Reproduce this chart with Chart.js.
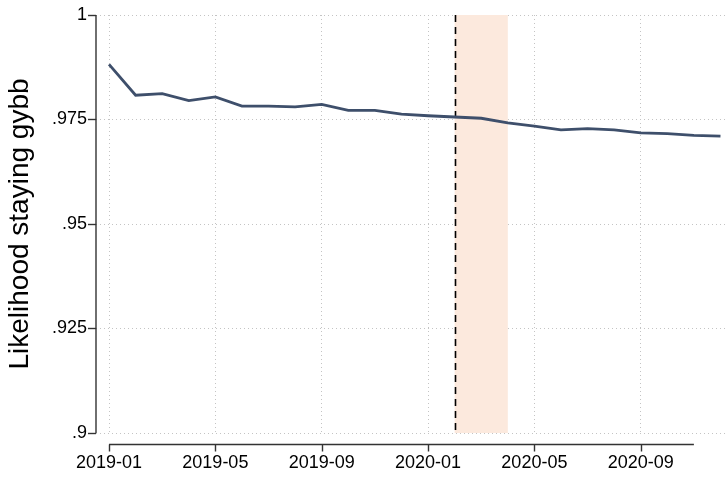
<!DOCTYPE html>
<html lang="en">
<head>
<meta charset="UTF-8">
<title>Likelihood staying gybb</title>
<script src="https://cdn.jsdelivr.net/npm/chart.js@4.4.0/dist/chart.umd.min.js"></script>
<style>
  html, body { margin: 0; padding: 0; background: #fff; }
  #wrap { width: 725px; height: 477px; }
</style>
</head>
<body>
<div id="wrap"><canvas id="myChart" width="725" height="477"></canvas></div>
<script>
// monthly series, 2019-01 .. 2020-12
const months = ['2019-01','2019-02','2019-03','2019-04','2019-05','2019-06','2019-07','2019-08','2019-09','2019-10','2019-11','2019-12',
                '2020-01','2020-02','2020-03','2020-04','2020-05','2020-06','2020-07','2020-08','2020-09','2020-10','2020-11','2020-12'];
const staying = [0.9882, 0.9808, 0.9812, 0.9795, 0.9804, 0.9782, 0.9782, 0.9780, 0.9786, 0.9772, 0.9772, 0.9763,
                 0.9759, 0.9756, 0.9753, 0.9742, 0.9734, 0.9725, 0.9728, 0.9725, 0.9718, 0.9716, 0.9712, 0.9710];
const xTicks = [0, 4, 8, 12, 16, 20];
const yTicks = [0.9, 0.925, 0.95, 0.975, 1];
const yTickLabels = ['.9', '.925', '.95', '.975', '1'];
const eventIndex = 13;          // dashed line, 2020-02
const shadeRange = [13, 15];    // shaded band 2020-02 .. 2020-04
const xAxisEnd = 22;

const font = "'Liberation Sans', Arial, sans-serif";

const stataExtras = {
  id: 'stataExtras',
  beforeDatasetsDraw(chart) {
    const {ctx, chartArea, scales: {x, y}} = chart;
    // shaded band
    ctx.save();
    ctx.fillStyle = '#fce9dd';
    const x0 = x.getPixelForValue(shadeRange[0]);
    const x1 = x.getPixelForValue(shadeRange[1]);
    ctx.fillRect(x0, y.getPixelForValue(1), x1 - x0, y.getPixelForValue(0.9) - y.getPixelForValue(1));
    // dashed event line
    const xe = Math.round(x.getPixelForValue(eventIndex)) + 0.5;
    ctx.strokeStyle = '#000';
    ctx.lineWidth = 1.6;
    ctx.setLineDash([7, 5]);
    ctx.beginPath();
    ctx.moveTo(xe, y.getPixelForValue(1));
    ctx.lineTo(xe, y.getPixelForValue(0.9));
    ctx.stroke();
    ctx.restore();
  },
  afterDraw(chart) {
    const {ctx, chartArea, scales: {x, y}} = chart;
    ctx.save();
    ctx.strokeStyle = '#333';
    ctx.lineWidth = 1.4;
    ctx.setLineDash([]);
    // y axis line
    const xa = chartArea.left;
    ctx.beginPath();
    ctx.moveTo(xa, y.getPixelForValue(1));
    ctx.lineTo(xa, y.getPixelForValue(0.9));
    ctx.stroke();
    // detached x axis line + tick marks
    const ya = chartArea.bottom + 11.5;
    ctx.beginPath();
    ctx.moveTo(x.getPixelForValue(0), ya);
    ctx.lineTo(x.getPixelForValue(xAxisEnd), ya);
    xTicks.forEach(t => {
      const px = Math.round(x.getPixelForValue(t)) + 0.5;
      ctx.moveTo(px, ya);
      ctx.lineTo(px, ya + 7);
    });
    ctx.stroke();
    ctx.restore();
  }
};

const ctx = document.getElementById('myChart').getContext('2d');
new Chart(ctx, {
  type: 'line',
  data: {
    datasets: [{
      data: staying.map((v, i) => ({x: i, y: v})),
      borderColor: '#3e4f6b',
      borderWidth: 2.8,
      pointRadius: 0,
      fill: false,
      tension: 0
    }]
  },
  options: {
    responsive: false,
    animation: false,
    layout: { padding: { top: 15, right: 0, bottom: 0, left: 0 } },
    plugins: { legend: { display: false }, tooltip: { enabled: false } },
    scales: {
      x: {
        type: 'linear',
        min: -0.49,
        max: 23.17,
        afterFit(scale) { scale.height = 44; },
        afterBuildTicks(scale) { scale.ticks = xTicks.map(v => ({value: v})); },
        border: { display: false, dash: [1, 3] },
        grid: { color: '#c4c4c4', lineWidth: 1, drawTicks: false },
        ticks: {
          padding: 19,
          maxRotation: 0,
          autoSkip: false,
          color: '#000',
          font: { family: font, size: 18 },
          callback: v => months[v]
        }
      },
      y: {
        min: 0.9,
        max: 1,
        afterFit(scale) { scale.width = 96; },
        afterBuildTicks(scale) { scale.ticks = yTicks.map(v => ({value: v})); },
        border: { display: false, dash: [1, 3] },
        grid: { color: '#c4c4c4', lineWidth: 1, drawTicks: true, tickLength: 8,
                tickColor: '#333', tickWidth: 1.4, tickBorderDash: [] },
        ticks: {
          padding: 1,
          color: '#000',
          font: { family: font, size: 18 },
          callback: (v) => yTickLabels[yTicks.indexOf(v)]
        },
        title: {
          display: true,
          text: 'Likelihood staying gybb',
          color: '#000',
          font: { family: font, size: 28 },
          padding: { top: 3, bottom: 0 }
        }
      }
    }
  },
  plugins: [stataExtras]
});
</script>
</body>
</html>
